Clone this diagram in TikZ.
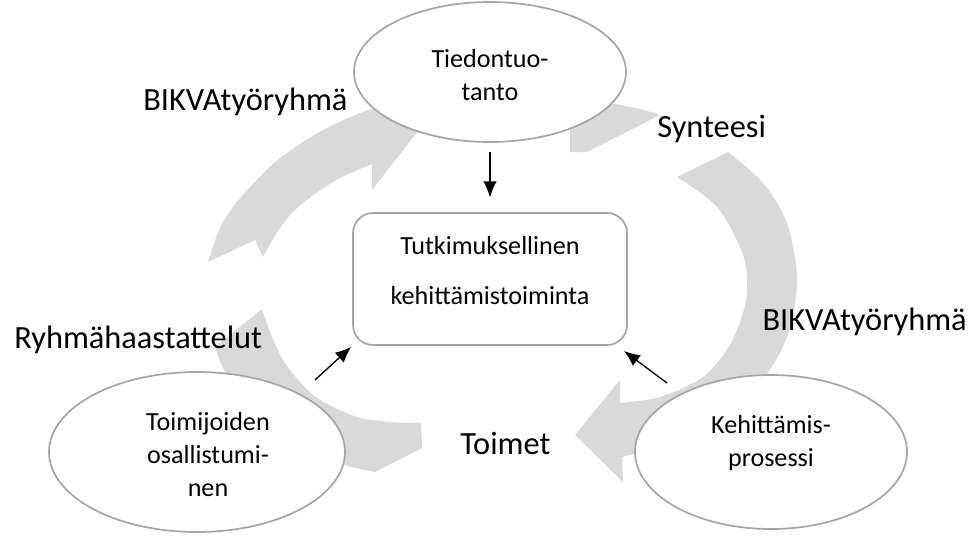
\documentclass[tikz,border=0pt]{standalone}
\usepackage{fontspec}
\setmainfont{Carlito}
\usetikzlibrary{shapes.geometric,arrows.meta}
\definecolor{ringgray}{HTML}{D9D9D9}
\definecolor{edgegray}{HTML}{A6A6A6}
\begin{document}
\begin{tikzpicture}[x=0.75pt,y=-0.75pt,
  ring/.style={fill=ringgray},
  ell/.style={ellipse, draw=edgegray, line width=1.3pt, fill=white, minimum width=204pt, inner sep=0pt},
  boxnode/.style={rectangle, rounded corners=15pt, draw=edgegray, line width=1.3pt, fill=white, minimum width=205.5pt, minimum height=99pt, inner sep=0pt},
  smalltext/.style={font=\fontsize{19.6}{24.75}\selectfont, align=center, inner sep=0pt},
  boxtext/.style={font=\fontsize{19.6}{37.5}\selectfont, align=center, inner sep=0pt},
  biglabel/.style={font=\fontsize{24.3}{28}\selectfont, inner sep=0pt},
  blk/.style={-{Latex[length=12pt,width=10pt]}, line width=1pt, black}
]
\useasboundingbox (0,0) rectangle (973,536);

% grey cycle arrows
% left arc, head at top
\fill[ring] (263,257) -- (255,240) -- (208,262)
  -- plot[smooth] coordinates {(208,262) (219,230) (233,207) (252,185) (273,164) (297,146) (323,130) (346,119) (368,110) (385,104)}
  -- (395,96) -- (425,122) -- (372,190) -- (372,164)
  -- plot[smooth] coordinates {(372,164) (340,178) (312,196) (291,214) (276,234) (263,257)} -- cycle;
% small fragment under top ellipse
\fill[ring] (570,99) -- (570,152) -- (587,152) -- (660,115)
  -- plot[smooth] coordinates {(660,115) (640,109) (615,104) (595,101) (570,99)} -- cycle;
% right arc, head at bottom pointing left
\fill[ring] (677,177) -- (728,152)
  -- plot[smooth] coordinates {(728,152) (763,183) (787,223) (797,277) (791,325) (776,360) (754,390) (721,420) (680,440) (640,452) (622,457)}
  -- (623,482) -- (575,435) -- (620,380) -- (620,403)
  -- plot[smooth] coordinates {(620,403) (660,397) (703,377) (731,343) (746,300) (744,258) (718,208) (677,177)} -- cycle;
% lower left arc
\fill[ring] (262,309)
  -- plot[smooth] coordinates {(262,309) (270,332) (283,360) (300,382) (320,400) (357,417) (390,422) (421,423)}
  -- (422,448) -- (375,472)
  -- plot[smooth] coordinates {(375,472) (345,465) (300,445) (260,415) (235,385) (223,368) (215,347)} -- cycle;

% shapes
\node[ell, minimum height=105pt] (tied) at (490,72) {};
\node[ell, minimum width=222pt, minimum height=120pt] (toim) at (197,452) {};
\node[ell, minimum height=115.5pt] (keh) at (771,452) {};
\node[boxnode] (tut) at (490,279) {};

% texts inside shapes
\node[smalltext] (tiedT) at (490,75) {Tiedontuo-\\tanto};
\node[smalltext] (toimT) at (208,455) {Toimijoiden\\osallistumi-\\nen};
\node[smalltext] (kehT) at (771,443) {Kehittämis-\\prosessi};
\node[boxtext] (tutT) at (490,271) {Tutkimuksellinen\\kehittämistoiminta};

% labels
\node[biglabel, anchor=base west] (lab1) at (143,110) {BIKVAtyöryhmä};
\node[biglabel, anchor=base west] (lab2) at (657,137) {Synteesi};
\node[biglabel, anchor=base east] (lab3) at (967,330) {BIKVAtyöryhmä};
\node[biglabel, anchor=base west] (lab4) at (14,348) {Ryhmähaastattelut};
\node[biglabel, anchor=base west] (lab5) at (460,454) {Toimet};

% black arrows
\coordinate (la) at (315,380);
\coordinate (ra) at (667,383);
\coordinate (rt) at (624,351);
\draw[blk, shorten <=7pt, shorten >=11pt] (tied.south) -- (tut.north);
\draw[blk, shorten >=1pt] (la) -- (tut.south west);
\draw[blk] (ra) -- (rt);
\end{tikzpicture}
\end{document}
